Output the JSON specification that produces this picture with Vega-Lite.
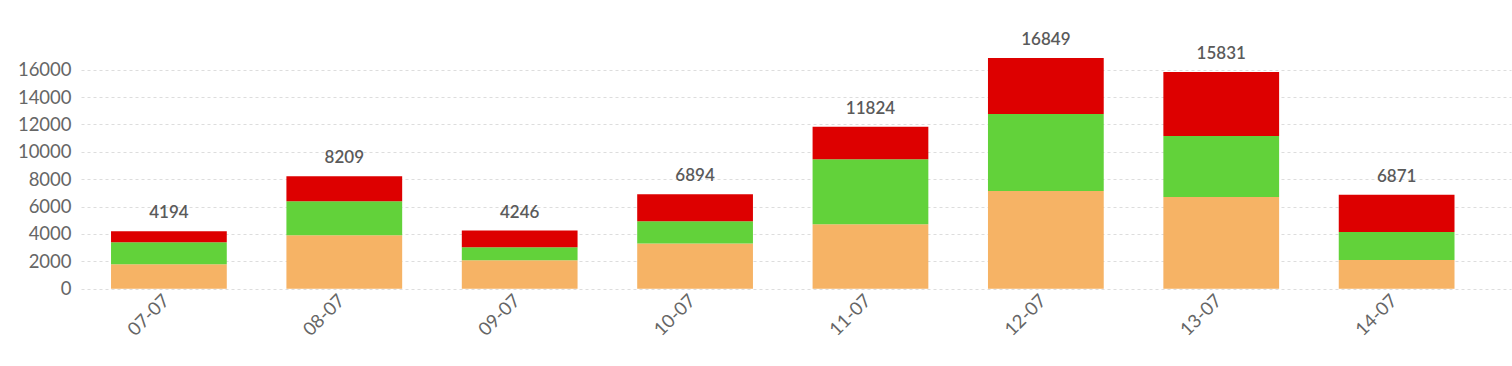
{
  "$schema": "https://vega.github.io/schema/vega-lite/v6.json",
  "autosize": "none",
  "padding": {"left": 81, "top": 56, "right": 1, "bottom": 77},
  "width": 1430,
  "height": 232.7,
  "background": "white",
  "config": {"view": {"stroke": null}, "font": "Lato"},
  "data": {"values": [
    {"date": "07-07", "series": "s1", "k": 1, "value": 1780},
    {"date": "07-07", "series": "s2", "k": 2, "value": 1605},
    {"date": "07-07", "series": "s3", "k": 3, "value": 809},
    {"date": "08-07", "series": "s1", "k": 1, "value": 3900},
    {"date": "08-07", "series": "s2", "k": 2, "value": 2480},
    {"date": "08-07", "series": "s3", "k": 3, "value": 1829},
    {"date": "09-07", "series": "s1", "k": 1, "value": 2070},
    {"date": "09-07", "series": "s2", "k": 2, "value": 950},
    {"date": "09-07", "series": "s3", "k": 3, "value": 1226},
    {"date": "10-07", "series": "s1", "k": 1, "value": 3310},
    {"date": "10-07", "series": "s2", "k": 2, "value": 1610},
    {"date": "10-07", "series": "s3", "k": 3, "value": 1974},
    {"date": "11-07", "series": "s1", "k": 1, "value": 4700},
    {"date": "11-07", "series": "s2", "k": 2, "value": 4750},
    {"date": "11-07", "series": "s3", "k": 3, "value": 2374},
    {"date": "12-07", "series": "s1", "k": 1, "value": 7135},
    {"date": "12-07", "series": "s2", "k": 2, "value": 5625},
    {"date": "12-07", "series": "s3", "k": 3, "value": 4089},
    {"date": "13-07", "series": "s1", "k": 1, "value": 6700},
    {"date": "13-07", "series": "s2", "k": 2, "value": 4455},
    {"date": "13-07", "series": "s3", "k": 3, "value": 4676},
    {"date": "14-07", "series": "s1", "k": 1, "value": 2090},
    {"date": "14-07", "series": "s2", "k": 2, "value": 2050},
    {"date": "14-07", "series": "s3", "k": 3, "value": 2731}
  ]},
  "encoding": {
    "x": {
      "field": "date", "type": "nominal", "sort": null,
      "scale": {"paddingInner": 0.34, "paddingOuter": 0.2465, "align": 0.347},
      "axis": {
        "title": null, "labelAngle": -45, "labelAlign": "right", "labelBaseline": "top",
        "labelFontSize": 18.5, "labelColor": "#666666", "labelPadding": 2,
        "ticks": false, "domain": false, "grid": false, "labelOffset": -9
      }
    }
  },
  "layer": [
    {
      "mark": {"type": "bar"},
      "encoding": {
        "y": {
          "field": "value", "type": "quantitative", "aggregate": "sum", "stack": "zero",
          "scale": {"domain": [0, 17000], "nice": false},
          "axis": {
            "title": null, "values": [0, 2000, 4000, 6000, 8000, 10000, 12000, 14000, 16000],
            "format": "d", "labelOverlap": false, "labelBaseline": "middle",
            "labelFontSize": 18.5, "labelColor": "#666666", "labelPadding": 10,
            "ticks": false, "domain": false,
            "gridColor": "#dddddd", "gridDash": [3, 3], "gridWidth": 1
          }
        },
        "color": {
          "field": "series", "type": "nominal",
          "scale": {"domain": ["s1", "s2", "s3"], "range": ["#f6b365", "#62d23a", "#dd0000"]},
          "legend": null
        },
        "order": {"field": "k", "type": "quantitative", "sort": "ascending"}
      }
    },
    {
      "mark": {"type": "text", "baseline": "bottom", "dy": -9, "fontSize": 17, "fontWeight": 600, "color": "#5a5a5a"},
      "encoding": {
        "y": {
          "field": "value", "type": "quantitative", "aggregate": "sum",
          "axis": {
            "title": null, "values": [0, 2000, 4000, 6000, 8000, 10000, 12000, 14000, 16000],
            "format": "d", "labelOverlap": false, "labelBaseline": "middle",
            "labelFontSize": 18.5, "labelColor": "#666666", "labelPadding": 10,
            "ticks": false, "domain": false,
            "gridColor": "#dddddd", "gridDash": [3, 3], "gridWidth": 1
          }
        },
        "text": {"field": "value", "type": "quantitative", "aggregate": "sum"}
      }
    }
  ]
}
